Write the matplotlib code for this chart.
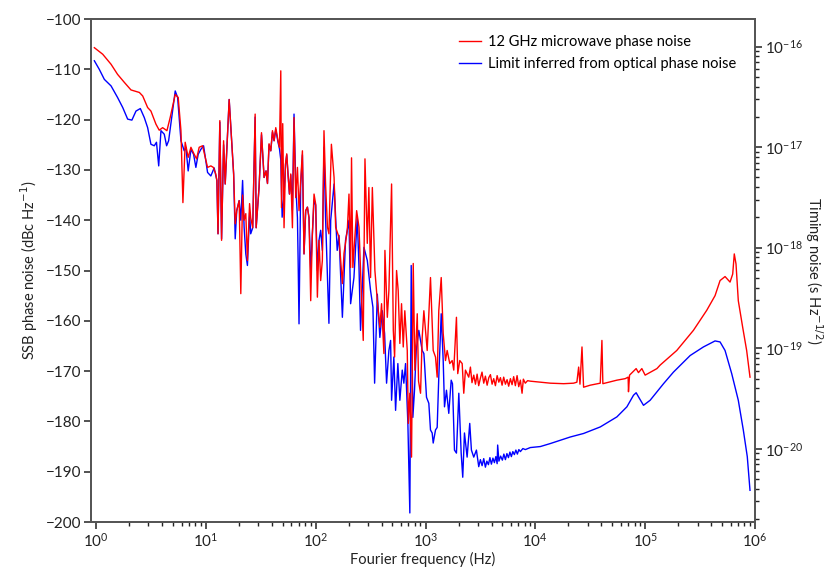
import numpy as np
import matplotlib
matplotlib.use("Agg")
import matplotlib.pyplot as plt
from matplotlib.ticker import FixedLocator, NullFormatter, LogFormatterMathtext

plt.rcParams['font.family'] = ['Lato', 'DejaVu Sans']
plt.rcParams['axes.unicode_minus'] = True

# ---------------- data ----------------
red_freq = [0.965, 1.15, 1.37, 1.57, 1.81, 2.08, 2.48, 2.66, 2.95, 3.16, 3.51, 3.76,
            4.04, 4.42, 4.73, 5.26, 5.60, 5.93, 6.18, 6.48, 6.90, 7.31, 7.83, 8.23,
            8.69, 9.33, 9.79, 10.36, 11.1, 11.7, 12.3, 12.6, 12.9, 13.4, 13.9, 14.5,
            15.0, 16.3, 17.9, 18.5, 19.1, 20.1, 20.8, 21.6, 22.3, 23.1, 23.9, 25.0,
            25.6, 26.7, 28.1, 28.7, 30.5, 32.1, 33.9, 35.3, 36.4, 37.6, 39.0, 40.4,
            41.8, 43.3, 45.4, 46.8, 48.1, 48.8, 50.1, 51.5, 53.1, 54.5, 56.0, 57.7,
            59.3, 61.4, 63.5, 65.8, 68.2, 70.5, 73.0, 75.7, 78.3, 81.1, 84.1, 86.9,
            90.1, 93.3, 96.6, 100, 103.6, 107.2, 111, 115, 119, 123, 128, 132,
            139, 147, 152, 163, 175, 181, 194, 201, 208, 212, 218, 236,
            248, 260, 271, 281, 295, 305, 316, 328, 346, 364, 384, 398,
            418, 427, 449, 464, 491, 509, 523, 545, 564, 584, 605, 627,
            648, 682, 697, 720, 746, 773, 800, 841, 864, 901, 933, 966,
            1036, 1110, 1175, 1233, 1277, 1321, 1390, 1449, 1520, 1575, 1663, 1749,
            1808, 1913, 1966, 2051, 2157, 2230, 2310, 2476,
            2564, 2650, 2750, 2850, 2950, 3050, 3162, 3270, 3390, 3510, 3640, 3770,
            3900, 4040, 4180, 4330, 4490, 4650, 4810, 4980, 5150, 5340, 5530, 5720,
            5930, 6140, 6350, 6580, 6820, 7060, 7310, 7570, 7780, 8100, 8500, 9010,
            13700, 18100, 22300, 23900, 24800, 25500, 26600, 27500, 31600,
            39000, 40400, 41200, 55300, 65800, 70000, 70500, 72100, 82800, 86900, 93300, 100000,
            128000, 137000, 194000, 275000, 364000, 433000, 481000, 534000, 593000, 627000, 648000, 672000,
            705000, 773000, 840000, 901000]
red_db = [-105.7, -107.0, -109.0, -111.0, -112.6, -114.1, -114.6, -115.3, -117.6, -118.3, -120.9, -122.1,
          -121.6, -122.2, -119.6, -115.0, -115.6, -122.2, -136.5, -124.5, -127.5, -125.5, -126.9, -127.8,
          -125.5, -125.2, -127.2, -129.5, -129.2, -129.5, -130.8, -132.1, -142.7, -120.2, -144.0, -124.2,
          -132.8, -116.0, -130.8, -140.7, -138.1, -136.1, -154.6, -135.0, -140.0, -138.7, -148.0, -136.7,
          -139.5, -141.5, -118.9, -141.5, -133.5, -122.6, -131.5, -130.2, -132.7, -124.8, -126.2, -122.2,
          -124.2, -121.6, -124.2, -125.5, -110.3, -137.5, -120.8, -141.5, -128.8, -126.8, -130.8, -134.8,
          -130.8, -141.5, -119.6, -135.5, -129.5, -138.1, -132.1, -126.2, -146.7, -138.1, -137.4, -139.5,
          -156.0, -142.7, -134.8, -136.8, -155.3, -144.0, -152.0, -148.0, -122.2, -132.8, -141.4, -142.7,
          -124.9, -131.5, -141.4, -143.4, -152.6, -146.6, -142.0, -134.8, -149.4, -127.6, -149.4, -138.1,
          -141.4, -154.0, -163.9, -127.8, -144.6, -133.5, -151.4, -133.5, -150.0, -156.0, -161.3, -156.6,
          -166.5, -146.0, -159.3, -154.0, -132.8, -161.9, -167.2, -150.0, -154.0, -164.5, -156.6, -165.2,
          -158.0, -165.9, -180.4, -174.4, -187.1, -148.6, -169.8, -158.6, -172.0, -174.4, -163.3, -158.0,
          -165.9, -151.4, -165.9, -167.2, -171.2, -158.0, -151.4, -162.5, -167.9, -165.9, -168.5, -167.9,
          -169.8, -159.3, -170.5, -167.9, -168.5, -174.4, -169.8, -171.2,
          -169.2, -172.3, -170.8, -172.6, -170.6, -172.9, -171.4, -170.2, -172.4, -171.0, -172.8, -171.3,
          -170.7, -172.6, -171.5, -172.9, -170.9, -172.2, -171.3, -172.8, -171.2, -172.6, -171.7, -173.0,
          -171.5, -172.7, -171.1, -172.9, -170.9, -173.1, -171.8, -174.4, -171.6, -172.4, -171.9, -172.0,
          -172.4, -172.5, -172.4, -172.2, -169.2, -172.6, -165.2, -173.2, -172.8,
          -172.4, -163.9, -172.5, -171.8, -171.5, -171.2, -174.1, -170.8, -169.5, -170.3, -169.5, -170.8,
          -169.5, -168.8, -165.9, -161.9, -157.9, -155.0, -152.0, -151.2, -152.3, -150.7, -146.7, -148.7,
          -156.0, -161.3, -165.9, -171.2]

blue_freq = [0.965, 1.07, 1.19, 1.37, 1.57, 1.75, 1.94, 2.12, 2.31, 2.53, 2.75, 2.95,
             3.16, 3.39, 3.55, 3.72, 3.90, 4.18, 4.39, 4.58, 5.26, 5.53, 5.93, 6.35,
             6.58, 6.90, 7.31, 7.73, 8.11, 8.51, 9.01, 9.53, 10.36, 11.1, 11.9, 12.6,
             12.9, 13.4, 13.9, 14.5, 15.0, 16.3, 17.9, 18.5, 19.1, 20.1, 20.8, 21.6,
             22.3, 23.1, 23.9, 25.0, 25.6, 26.7, 28.1, 28.7, 30.5, 32.1, 33.9, 35.3,
             36.4, 37.6, 39.0, 40.4, 41.8, 43.3, 45.4, 46.8, 48.1, 49.5, 51.5, 53.1,
             54.5, 56.0, 57.7, 59.3, 61.4, 63.5, 65.8, 68.2, 69.2, 70.5, 73.0, 75.7,
             78.3, 81.1, 84.1, 86.9, 90.1, 93.3, 96.6, 100, 103.6, 107.2, 111, 115,
             119, 123, 132, 137, 147, 157, 163, 175, 187, 201, 208, 223,
             239, 248, 256, 275, 295, 316, 332, 344, 364, 384, 404, 424,
             442, 464, 481, 491, 515, 534, 560, 584, 614, 635, 658, 691,
             720, 741, 767, 794, 823, 869, 933, 966, 980, 1021, 1072, 1110,
             1150, 1175, 1233, 1277, 1321, 1390, 1449, 1489, 1552, 1629, 1713, 1760,
             1835, 1913, 2010, 2112, 2183, 2263, 2393, 2528, 2618, 2750, 2908,
             3053, 3160, 3275, 3390, 3510, 3620, 3740, 3860, 3980, 4110, 4240, 4370,
             4490, 4540, 4660, 4830, 5010, 5170, 5340, 5510, 5690, 5870, 6050, 6240,
             6440, 6650, 6860, 7080, 7310, 7700, 8110, 9000, 11100,
             13700, 20800, 27500, 39000, 55300, 68200, 78300,
             82800, 86900, 96600, 111000, 147000, 181000, 257000, 339000, 433000, 481000, 534000, 614000,
             705000, 783000, 851000, 901000]
blue_db = [-108.3, -110.0, -112.0, -113.3, -115.6, -117.6, -119.9, -120.1, -118.3, -117.8, -119.6, -121.6,
           -124.9, -125.2, -124.5, -129.2, -122.2, -122.9, -125.2, -124.2, -114.3, -115.6, -124.2, -126.2,
           -125.5, -130.2, -125.9, -126.9, -129.5, -126.9, -125.9, -125.2, -130.5, -131.2, -129.6, -132.1,
           -142.7, -120.5, -143.7, -125.0, -132.8, -116.0, -130.8, -143.7, -138.1, -136.1, -140.0, -132.1,
           -141.4, -146.7, -149.0, -138.5, -142.7, -141.5, -119.5, -141.5, -133.5, -123.0, -131.5, -130.2,
           -132.7, -125.0, -126.2, -122.5, -124.2, -122.0, -124.5, -125.8, -128.0, -139.4, -135.0, -129.0,
           -127.0, -131.0, -134.8, -131.0, -138.0, -118.9, -133.0, -139.5, -148.0, -160.6, -133.0, -127.0,
           -146.7, -138.1, -137.4, -139.5, -150.0, -142.7, -136.0, -137.0, -150.0, -144.0, -142.0, -146.0,
           -125.5, -139.5, -160.5, -140.0, -132.8, -146.0, -143.0, -159.3, -144.0, -140.0, -156.6, -151.4,
           -139.5, -149.4, -161.9, -145.4, -148.0, -154.0, -157.3, -172.4, -154.7, -163.3, -158.0, -162.5,
           -172.4, -165.9, -163.9, -175.8, -167.2, -177.8, -168.5, -175.8, -169.8, -172.4, -168.5, -180.4,
           -198.2, -149.0, -179.2, -173.8, -165.9, -161.9, -165.9, -166.5, -168.5, -175.2, -176.4, -181.7,
           -182.3, -184.3, -181.7, -181.2, -171.2, -158.6, -167.9, -177.1, -173.8, -178.4, -171.8, -172.5,
           -185.7, -186.3, -174.4, -186.3, -191.1, -182.3, -187.1, -180.4, -185.7, -187.1, -185.7,
           -189.0, -187.6, -188.8, -187.4, -189.1, -187.9, -188.6, -187.2, -188.5, -187.3, -188.2, -187.0,
           -188.4, -184.7, -187.9, -186.9, -187.7, -186.5, -187.6, -186.4, -187.2, -186.1, -187.0, -186.0,
           -186.6, -185.7, -186.5, -185.6, -186.0, -185.4, -185.6, -185.2, -185.0,
           -184.4, -183.1, -182.4, -181.1, -179.1, -177.1, -174.8,
           -174.3, -175.1, -176.8, -175.8, -172.5, -170.2, -166.9, -165.2, -164.0, -164.2, -165.9, -170.5,
           -175.8, -181.7, -187.0, -193.7]

red_label = "12 GHz microwave phase noise"
blue_label = "Limit inferred from optical phase noise"
carrier_hz = 12e9
x_decades = [1e0, 1e1, 1e2, 1e3, 1e4, 1e5, 1e6]
t_decades = [1e-20, 1e-19, 1e-18, 1e-17, 1e-16]

# ---------------- figure ----------------
fig = plt.figure(figsize=(8.29, 5.73), dpi=100)
ax = fig.add_axes([0.1098, 0.089, 0.8009, 0.8778])

ax.plot(blue_freq, blue_db, color='#0000ff', lw=1.0, label=blue_label, zorder=2)
ax.plot(red_freq, red_db, color='#ff0000', lw=1.0, label=red_label, zorder=3)

ax.set_xscale('log')
ax.set_xlim(0.9, 1e6)
ax.set_ylim(-200, -100)
ax.set_yticks(np.arange(-200, -99, 10))
ax.xaxis.set_major_locator(FixedLocator(x_decades))
ax.xaxis.set_major_formatter(LogFormatterMathtext())
x_minor = [d * k for d in x_decades[:-1] for k in range(2, 10)]
ax.xaxis.set_minor_locator(FixedLocator(x_minor))
ax.xaxis.set_minor_formatter(NullFormatter())

spine_col = '#555555'
for s in ax.spines.values():
    s.set_color(spine_col)
    s.set_linewidth(1.3)
ax.tick_params(axis='both', which='major', direction='out', length=5, width=1.1,
               colors='#222222', labelsize=11, pad=2)
ax.tick_params(axis='x', which='minor', direction='out', length=3, width=1.0, colors='#222222')
ax.tick_params(axis='y', which='both', right=False)

ax.set_xlabel("Fourier frequency (Hz)", fontsize=10.5, color='#222222', labelpad=2)
ax.set_ylabel("SSB phase noise (dBc Hz$^{-1}$)", fontsize=10.5, color='#222222', labelpad=4)


def to_timing(L):
    return np.sqrt(2 * 10 ** (np.asarray(L) / 10.0)) / (2 * np.pi * carrier_hz)


t_lo, t_hi = to_timing(-200), to_timing(-100)
ax2 = ax.twinx()
ax2.set_yscale('log')
ax2.set_ylim(t_lo, t_hi)
ax2.yaxis.set_major_locator(FixedLocator(t_decades))
ax2.yaxis.set_major_formatter(LogFormatterMathtext())
t_minor = [d * k for d in [1e-21] + t_decades for k in range(2, 10) if t_lo <= d * k <= t_hi]
ax2.yaxis.set_minor_locator(FixedLocator(t_minor))
ax2.yaxis.set_minor_formatter(NullFormatter())
ax2.tick_params(axis='y', which='major', direction='out', length=5, width=1.1,
                colors='#222222', labelsize=11, pad=2)
ax2.tick_params(axis='y', which='minor', direction='out', length=3, width=1.0, colors='#222222')
ax2.tick_params(axis='x', which='both', bottom=False, top=False,
                labelbottom=False, labeltop=False)
for s in ax2.spines.values():
    s.set_color(spine_col)
    s.set_linewidth(1.3)
ax2.set_ylabel("Timing noise (s Hz$^{-1/2}$)", fontsize=10.5, color='#222222',
               rotation=270, labelpad=16)

h, l = ax.get_legend_handles_labels()
ax.legend(h[::-1], l[::-1], loc='upper right', bbox_to_anchor=(0.985, 0.985),
          frameon=False, fontsize=10.5, handlelength=1.5, handletextpad=0.5,
          labelspacing=0.5, borderaxespad=0.2)

fig.savefig("out.png", dpi=100)
